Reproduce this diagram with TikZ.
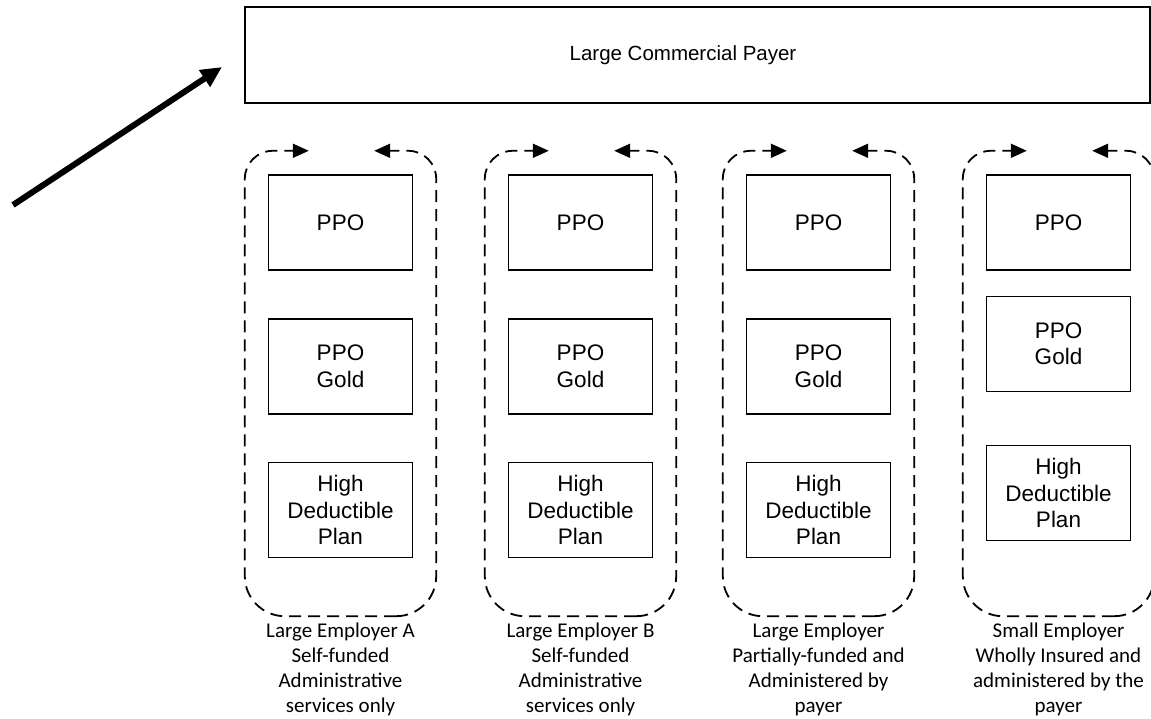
\documentclass[tikz,border=0pt]{standalone}
\usepackage{fontspec}
\setmainfont{Liberation Sans}
\newfontfamily\capfont{Carlito}
\usetikzlibrary{arrows.meta}
\begin{document}
\begin{tikzpicture}[x=1pt,y=1pt,
  plan/.style={draw, line width=1.8pt, minimum width=144pt, minimum height=95pt,
    inner sep=0pt, align=center, font=\fontsize{22.5}{26.5}\selectfont},
  payerbox/.style={draw, line width=1.8pt, minimum width=905pt, minimum height=96pt,
    inner sep=0pt},
  payertext/.style={inner sep=0pt, font=\fontsize{20.5}{24}\selectfont},
  group/.style={minimum width=191pt, minimum height=465pt, inner sep=0pt},
  loop/.style={line width=1.8pt, dash pattern=on 12pt off 7pt,
    -{Triangle[length=16pt,width=14pt]}},
  caption/.style={anchor=north, align=center, inner sep=0pt,
    font=\capfont\fontsize{21}{25}\selectfont},
  bigarrow/.style={line width=6pt, -{Triangle[length=21pt,width=19pt]}}
]
\useasboundingbox (0,0) rectangle (1151,718);

% payer and the incoming arrow
\node[payerbox] (payer) at (697.5,663) {};
\node[payertext] (payername) at (683,663) {Large Commercial Payer};
\coordinate (src) at (13,513);
\coordinate (tip) at (222,651);
\draw[bigarrow] (src) -- (tip);

% employer groups: three plans inside a dashed loop
\foreach \i/\cx/\ya/\yb/\yc in {1/340.5/495.5/351.5/208,
                                2/580.5/495.5/351.5/208,
                                3/818.5/495.5/351.5/208,
                                4/1058.5/495.5/374/225}{
  \node[group] (g\i) at (\cx,334.5) {};
  \node[plan] (ppo\i) at (\cx,\ya) {PPO};
  \node[plan] (gold\i) at (\cx,\yb) {PPO\\Gold};
  \node[plan] (hdp\i) at (\cx,\yc) {High\\Deductible\\Plan};
  \draw[loop] ([xshift=-40pt]g\i.south east) -- ([xshift=40pt]g\i.south west)
    arc[start angle=270,end angle=180,radius=40pt]
    -- ([yshift=-28pt]g\i.north west)
    arc[start angle=180,end angle=90,radius=28pt]
    -- ([xshift=64pt]g\i.north west);
  \draw[loop] ([xshift=-40pt]g\i.south east)
    arc[start angle=270,end angle=360,radius=40pt]
    -- ([yshift=-28pt]g\i.north east)
    arc[start angle=0,end angle=90,radius=28pt]
    -- ([xshift=-62pt]g\i.north east);
}

% captions under the groups
\node[caption] (cap1) at ([yshift=-7pt]g1.south) {Large Employer A\\Self-funded\\Administrative\\services only};
\node[caption] (cap2) at ([yshift=-7pt]g2.south) {Large Employer B\\Self-funded\\Administrative\\services only};
\node[caption] (cap3) at ([yshift=-7pt]g3.south) {Large Employer\\Partially-funded and\\Administered by\\payer};
\node[caption] (cap4) at ([yshift=-7pt]g4.south) {Small Employer\\Wholly Insured and\\administered by the\\payer};
\end{tikzpicture}
\end{document}
